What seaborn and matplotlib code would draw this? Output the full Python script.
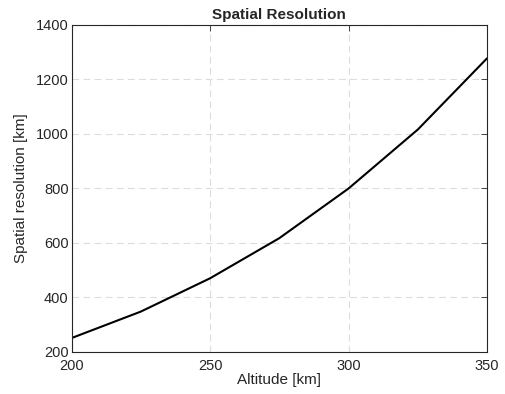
import matplotlib
matplotlib.use("Agg")
import matplotlib.pyplot as plt
import seaborn as sns
import pandas as pd

altitude = [200, 225, 250, 275, 300, 325, 350]
resolution = [251, 348, 470, 617, 799, 1015, 1276]
x_ticks = [200, 250, 300, 350]
y_ticks = [200, 400, 600, 800, 1000, 1200, 1400]

sns.set_theme(style="white")
plt.rcParams['font.family'] = ['Liberation Sans', 'DejaVu Sans']

df = pd.DataFrame({"Altitude": altitude, "Resolution": resolution})

fig = plt.figure(figsize=(5.05, 3.94), dpi=100)
ax = fig.add_axes([0.1416, 0.1066, 0.8228, 0.8312])
sns.lineplot(data=df, x="Altitude", y="Resolution", color="black", linewidth=1.5, ax=ax)

ax.set_xlim(200, 350)
ax.set_ylim(200, 1400)
ax.set_xticks(x_ticks)
ax.set_yticks(y_ticks)
ax.grid(True, linestyle=(0, (6, 4)), color="#dcdcdc", linewidth=0.8)
for s in ax.spines.values():
    s.set_color("#262626")
    s.set_linewidth(0.8)
    s.set_visible(True)
ax.tick_params(direction="in", length=4, width=0.6, color="#262626",
               top=True, right=True, labelsize=10.5, labelcolor="#262626", pad=2)
ax.tick_params(axis='x', pad=5)
ax.set_xlabel("Altitude [km]", fontsize=11, color="#262626", labelpad=0)
ax.set_ylabel("Spatial resolution [km]", fontsize=11, color="#262626", labelpad=6)
ax.set_title("Spatial Resolution", fontsize=11, fontweight="bold", pad=4)

fig.savefig("out.png", dpi=100)
